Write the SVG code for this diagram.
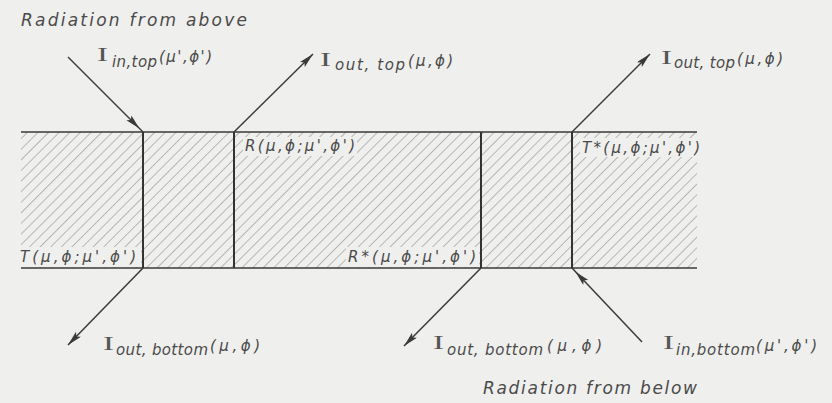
<svg xmlns="http://www.w3.org/2000/svg" width="832" height="403" viewBox="0 0 832 403">
<defs>
<style>
.lbl{font-family:"DejaVu Sans","Liberation Sans",sans-serif;font-style:oblique;fill:#4a4a4a;}
.big{font-size:17px;}
.sub{font-size:15px;}
.arg{font-size:15px;}
.I{font-family:"Liberation Serif","DejaVu Serif",serif;font-size:18px;fill:#555;}
.edge{stroke:#3a3a3a;stroke-width:1.6;fill:none;}
.wall{stroke:#333;stroke-width:2;fill:none;}
.ray{stroke:#3a3a3a;stroke-width:1.5;fill:none;}
</style>
<pattern id="hatch" patternUnits="userSpaceOnUse" width="7.5" height="10" patternTransform="rotate(45)">
<line x1="0" y1="-1" x2="0" y2="11" stroke="#5e5e5e" stroke-width="0.8"/>
</pattern>
<marker id="ah" markerUnits="userSpaceOnUse" markerWidth="16" markerHeight="8" refX="15" refY="3.5" orient="auto">
<path d="M0,0 L15,3.5 L0,7 L3,3.5 z" fill="#3a3a3a"/>
</marker>
<marker id="ahIn" markerUnits="userSpaceOnUse" markerWidth="22" markerHeight="8" refX="20" refY="3.5" orient="auto">
<path d="M0,0 L15,3.5 L0,7 L3,3.5 z" fill="#3a3a3a"/>
</marker>
</defs>
<rect x="0" y="0" width="832" height="403" fill="#efefed"/>

<g id="slab">
<rect x="21" y="132" width="676" height="136" fill="url(#hatch)"/>
<rect x="243" y="137" width="114" height="19" fill="#efefed"/>
<rect x="580" y="138" width="118" height="19" fill="#efefed"/>
<rect x="21" y="247" width="120" height="20" fill="#efefed"/>
<rect x="346" y="247" width="133" height="20" fill="#efefed"/>
<line class="edge" x1="21" y1="132" x2="697" y2="132"/>
<line class="edge" x1="21" y1="268" x2="697" y2="268"/>
<line class="wall" x1="143" y1="132" x2="143" y2="268"/>
<line class="wall" x1="234" y1="132" x2="234" y2="268"/>
<line class="wall" x1="481" y1="132" x2="481" y2="268"/>
<line class="wall" x1="572" y1="132" x2="572" y2="268"/>
</g>

<g id="connectors">
<line class="ray" x1="68" y1="57" x2="143" y2="132" marker-end="url(#ahIn)"/>
<line class="ray" x1="234" y1="132" x2="313" y2="54" marker-end="url(#ah)"/>
<line class="ray" x1="572" y1="132" x2="650" y2="54" marker-end="url(#ah)"/>
<line class="ray" x1="143" y1="268" x2="68" y2="345" marker-end="url(#ah)"/>
<line class="ray" x1="481" y1="268" x2="404" y2="346" marker-end="url(#ah)"/>
<line class="ray" x1="642" y1="342" x2="572" y2="268" marker-end="url(#ahIn)"/>
</g>

<g id="title-above">
<text class="lbl big" x="21" y="26" textLength="226" lengthAdjust="spacing">Radiation from above</text>
</g>
<g id="title-below">
<text class="lbl big" x="483" y="394" textLength="214" lengthAdjust="spacing">Radiation from below</text>
</g>

<g id="label-in-top">
<text class="I" x="97" y="61" textLength="11" lengthAdjust="spacingAndGlyphs">I</text>
<text class="lbl sub" x="112" y="67" textLength="45" lengthAdjust="spacing">in,top</text>
<text class="lbl arg" x="159" y="62" textLength="53" lengthAdjust="spacing">(μ',ϕ')</text>
</g>
<g id="label-out-top-1">
<text class="I" x="320" y="66" textLength="11" lengthAdjust="spacingAndGlyphs">I</text>
<text class="lbl sub" x="335" y="70" textLength="70" lengthAdjust="spacing">out, top</text>
<text class="lbl arg" x="408" y="66" textLength="45" lengthAdjust="spacing">(μ,ϕ)</text>
</g>
<g id="label-out-top-2">
<text class="I" x="661" y="64" textLength="11" lengthAdjust="spacingAndGlyphs">I</text>
<text class="lbl sub" x="674" y="68" textLength="61" lengthAdjust="spacing">out, top</text>
<text class="lbl arg" x="737" y="64" textLength="46" lengthAdjust="spacing">(μ,ϕ)</text>
</g>

<g id="label-R">
<text class="lbl arg" x="245" y="151" textLength="110" lengthAdjust="spacing">R(μ,ϕ;μ',ϕ')</text>
</g>
<g id="label-Tstar">
<text class="lbl arg" x="582" y="153" textLength="118" lengthAdjust="spacing">T*(μ,ϕ;μ',ϕ')</text>
</g>
<g id="label-T">
<text class="lbl arg" x="20" y="262" textLength="116" lengthAdjust="spacing">T(μ,ϕ;μ',ϕ')</text>
</g>
<g id="label-Rstar">
<text class="lbl arg" x="348" y="262" textLength="128" lengthAdjust="spacing">R*(μ,ϕ;μ',ϕ')</text>
</g>

<g id="label-out-bottom-1">
<text class="I" x="103" y="350" textLength="11" lengthAdjust="spacingAndGlyphs">I</text>
<text class="lbl sub" x="116" y="355" textLength="92" lengthAdjust="spacing">out, bottom</text>
<text class="lbl arg" x="210" y="351" textLength="50" lengthAdjust="spacing">(μ,ϕ)</text>
</g>
<g id="label-out-bottom-2">
<text class="I" x="433" y="349" textLength="11" lengthAdjust="spacingAndGlyphs">I</text>
<text class="lbl sub" x="447" y="355" textLength="96" lengthAdjust="spacing">out, bottom</text>
<text class="lbl arg" x="547" y="351" textLength="55" lengthAdjust="spacing">(μ,ϕ)</text>
</g>
<g id="label-in-bottom">
<text class="I" x="663" y="349" textLength="11" lengthAdjust="spacingAndGlyphs">I</text>
<text class="lbl sub" x="676" y="355" textLength="79" lengthAdjust="spacing">in,bottom</text>
<text class="lbl arg" x="756" y="351" textLength="61" lengthAdjust="spacing">(μ',ϕ')</text>
</g>
</svg>
